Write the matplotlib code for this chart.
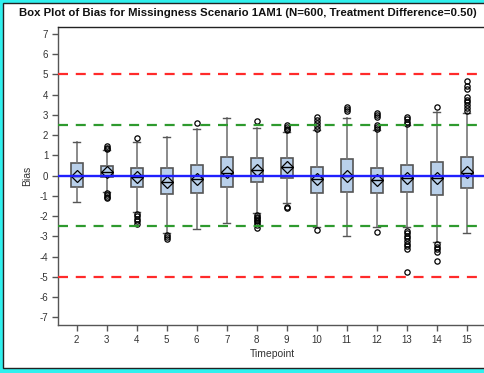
import matplotlib
matplotlib.use("Agg")
import matplotlib.pyplot as plt
from matplotlib.patches import Rectangle

plt.rcParams["axes.unicode_minus"] = False

# Summary statistics of bias per timepoint
timepoints = [2, 3, 4, 5, 6, 7, 8, 9, 10, 11, 12, 13, 14, 15]
q1 = [-0.57, -0.05, -0.54, -0.92, -0.84, -0.54, -0.30, -0.10, -0.84, -0.79, -0.87, -0.79, -0.95, -0.62]
median = [0.00, 0.20, -0.08, -0.30, -0.18, 0.12, 0.28, 0.41, -0.18, 0.00, -0.21, -0.13, -0.13, 0.12]
q3 = [0.61, 0.48, 0.37, 0.37, 0.53, 0.92, 0.86, 0.86, 0.41, 0.81, 0.36, 0.53, 0.69, 0.91]
mean = [0.00, 0.20, -0.08, -0.30, -0.18, 0.20, 0.28, 0.41, -0.18, 0.00, -0.21, -0.13, -0.13, 0.20]
whisker_low = [-1.28, -0.80, -1.80, -2.83, -2.65, -2.35, -1.86, -1.36, -2.52, -2.98, -2.52, -2.52, -3.26, -2.81]
whisker_high = [1.65, 1.25, 1.68, 1.93, 2.29, 2.86, 2.34, 2.17, 2.26, 2.83, 2.26, 2.50, 3.16, 3.08]
outliers = [
    [],
    [1.30, 1.38, 1.45, -0.86, -0.95, -1.03, -1.10],
    [1.85, -1.88, -2.00, -2.12, -2.25, -2.38],
    [-2.95, -3.05, -3.15],
    [2.59],
    [],
    [2.72, -1.94, -2.02, -2.10, -2.18, -2.26, -2.34, -2.42, -2.57],
    [2.25, 2.33, 2.42, 2.50, -1.53, -1.60],
    [2.30, 2.45, 2.60, 2.75, 2.90, -2.68],
    [3.18, 3.30, 3.40],
    [2.30, 2.40, 2.50, 2.90, 3.00, 3.10, -2.76],
    [2.55, 2.65, 2.78, 2.91, -2.73, -2.85, -2.98, -3.10, -3.22, -3.35, -3.48, -3.62, -4.74],
    [3.38, -3.38, -3.50, -3.62, -3.75, -4.20],
    [3.20, 3.35, 3.50, 3.62, 3.75, 3.87, 4.30, 4.45, 4.70],
]
yticks = list(range(-7, 8))

W, H = 485, 373
fig = plt.figure(figsize=(W / 100, H / 100), dpi=100)
fig.patch.set_facecolor("white")

# Frame around the graph: cyan band with a dark inner line
cyan = "#30f0ee"
fig.patches.append(Rectangle((0, 0), 1, 1, transform=fig.transFigure,
                             facecolor=cyan, edgecolor="none", zorder=-10))
fig.patches.append(Rectangle((3.5 / W, 5 / H), 1.2, 1 - 7.5 / H, transform=fig.transFigure,
                             facecolor="white", edgecolor="#222222", linewidth=1.0, zorder=-9))

ax_left, ax_right, ax_top, ax_bot = 58, 492, 27, 325
ax = fig.add_axes([ax_left / W, 1 - ax_bot / H, (ax_right - ax_left) / W, (ax_bot - ax_top) / H])
ax.set_facecolor("white")

stats = []
for i, t in enumerate(timepoints):
    stats.append(dict(label=str(t), q1=q1[i], med=median[i], q3=q3[i], mean=mean[i],
                      whislo=whisker_low[i], whishi=whisker_high[i], fliers=outliers[i]))

edge = "#555555"
ax.bxp(stats, positions=timepoints, widths=0.4, patch_artist=True, showmeans=True,
       boxprops=dict(facecolor="#b9d0ea", edgecolor=edge, linewidth=1.2),
       whiskerprops=dict(color="#777777", linewidth=1.2),
       capprops=dict(color="#555555", linewidth=1.0),
       capwidths=0.22,
       medianprops=dict(color="black", linewidth=1.0),
       meanprops=dict(marker="D", markerfacecolor="none", markeredgecolor="black",
                      markersize=6.5, markeredgewidth=0.9),
       flierprops=dict(marker="o", markerfacecolor="none", markeredgecolor="black",
                       markersize=3.8, markeredgewidth=0.9),
       zorder=2)

# Reference lines
for y in (5, -5):
    ax.axhline(y, color="#ff2a2a", linestyle=(0, (4.5, 3.5)), linewidth=1.6, zorder=3)
for y in (2.5, -2.5):
    ax.axhline(y, color="#2e9a2e", linestyle=(0, (4.5, 3.5)), linewidth=1.6, zorder=3)
ax.axhline(0, color="#1f1fff", linewidth=1.7, zorder=4)

ax.set_xlim(2 - 18.7 / 30, 15 + (ax_right - 466.7) / 30)
ax.set_ylim(-(325 - 175.7) / 20.25, (175.7 - 27) / 20.25)
ax.set_yticks(yticks)
ax.set_yticklabels([str(v) for v in yticks])
ax.set_xticks(timepoints)
ax.set_xticklabels([str(t) for t in timepoints])

for s in ("left", "bottom", "top"):
    ax.spines[s].set_color("#555555")
    ax.spines[s].set_linewidth(1.0)
ax.spines["top"].set_color("#222222")
ax.spines["right"].set_visible(False)
ax.tick_params(axis="both", direction="out", length=4, width=1.0, color="#555555",
               labelsize=7, labelcolor="#333333", pad=3)
for lbl in ax.get_xticklabels() + ax.get_yticklabels():
    lbl.set_family("Liberation Sans")

fig.text(248 / W, 1 - 13 / H, "Box Plot of Bias for Missingness Scenario 1AM1 (N=600, Treatment Difference=0.50)",
         ha="center", va="center", fontsize=8.2, fontweight="bold", family="Liberation Sans", color="#111111")
fig.text(27 / W, 1 - 176 / H, "Bias", rotation=90, ha="center", va="center",
         fontsize=7.5, family="Liberation Sans", color="#333333")
fig.text(272 / W, 1 - 354 / H, "Timepoint", ha="center", va="center",
         fontsize=7.5, family="Liberation Sans", color="#333333")

fig.savefig("out.png", dpi=100)
